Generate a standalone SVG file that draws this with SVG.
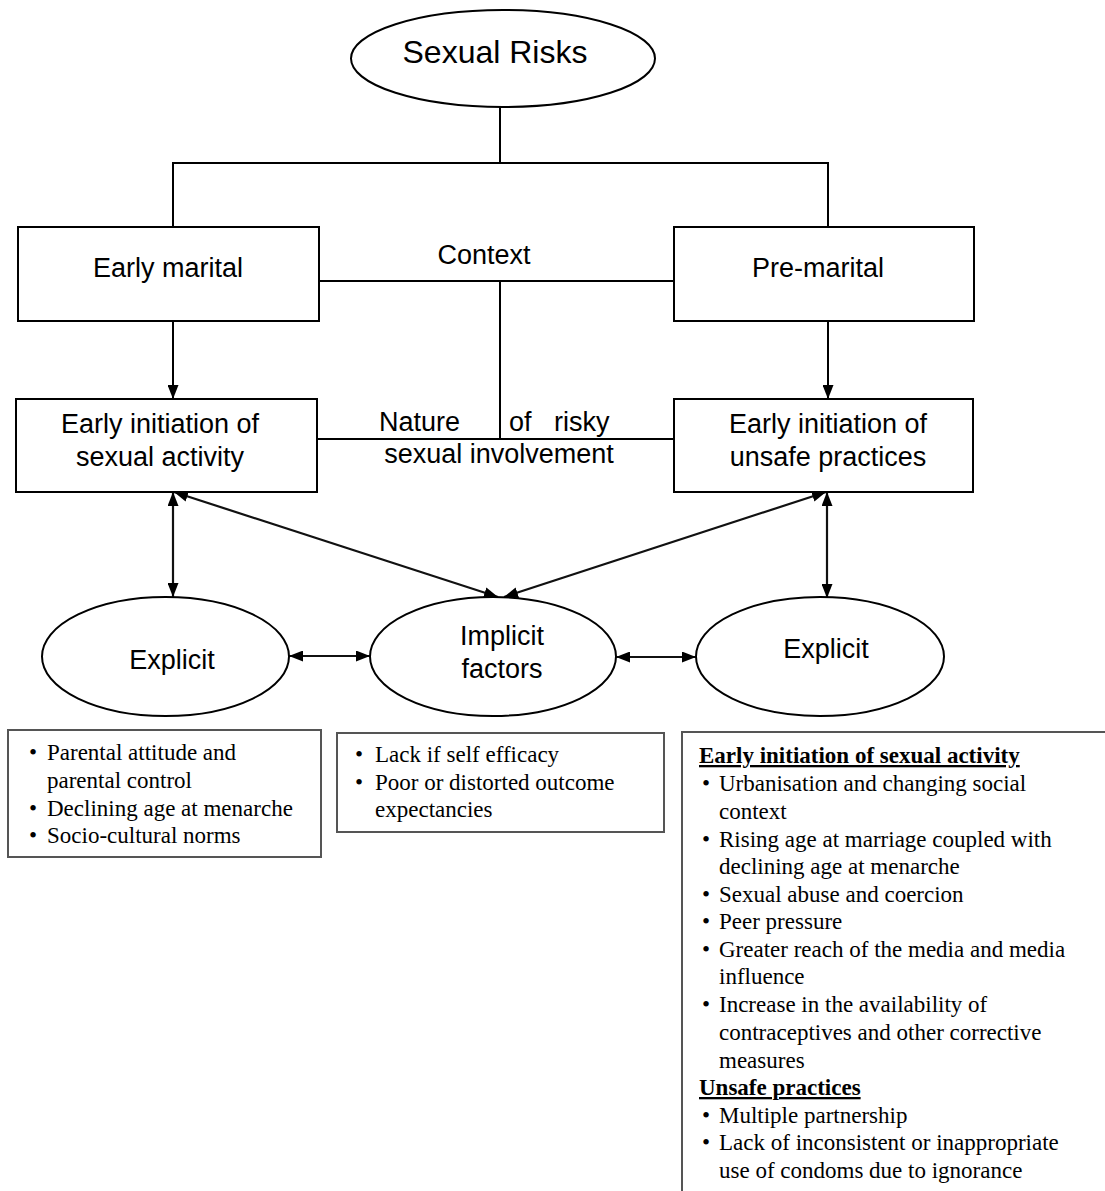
<svg xmlns="http://www.w3.org/2000/svg" width="1105" height="1191" viewBox="0 0 1105 1191">
<style>
.sh{fill:#fff;stroke:#000;stroke-width:2}
.bx{fill:#fff;stroke:#555;stroke-width:2}
.ln{fill:none;stroke:#000;stroke-width:2}
.ar{fill:none;stroke:#111;stroke-width:2.2;marker-start:url(#ah);marker-end:url(#ah)}
.sn{font-family:"Liberation Sans",Arial,sans-serif;font-size:27px;fill:#000;text-anchor:middle}
.sr{font-family:"Liberation Serif","Times New Roman",serif;font-size:23px;fill:#000}
.hd{text-decoration:underline;font-weight:bold}
</style>
<defs>
<marker id="ah" viewBox="0 0 14 11" refX="14" refY="5.5" markerWidth="14" markerHeight="11" markerUnits="userSpaceOnUse" orient="auto-start-reverse">
<path d="M0,0 L14,5.5 L0,11 z" fill="#000"/>
</marker>
</defs>
<rect width="1105" height="1191" fill="#fff"/>
<g id="connectors">
<line class="ln" x1="500" y1="107" x2="500" y2="163"/>
<polyline class="ln" points="173,227 173,163 828,163 828,227"/>
<line class="ln" x1="319" y1="281" x2="674" y2="281"/>
<line class="ln" x1="500" y1="281" x2="500" y2="439"/>
<line class="ln" x1="317" y1="439" x2="674" y2="439"/>
<line class="ln" x1="173" y1="321" x2="173" y2="399" marker-end="url(#ah)"/>
<line class="ln" x1="828" y1="321" x2="828" y2="399" marker-end="url(#ah)"/>
<line class="ar" x1="173" y1="492" x2="173" y2="597"/>
<line class="ar" x1="827" y1="492" x2="827" y2="598"/>
<line class="ar" x1="174" y1="492" x2="498" y2="597"/>
<line class="ar" x1="826" y1="492" x2="504" y2="597"/>
<line class="ar" x1="289" y1="656" x2="370" y2="656"/>
<line class="ar" x1="616" y1="657" x2="696" y2="657"/>
</g>
<g id="sexual-risks">
<ellipse class="sh" cx="503" cy="58.5" rx="152" ry="48.5"/>
<text class="sn" x="495" y="63" style="font-size:32px">Sexual Risks</text>
</g>
<g id="early-marital">
<rect class="sh" x="18" y="227" width="301" height="94"/>
<text class="sn" x="168" y="277">Early marital</text>
</g>
<g id="context-label">
<text class="sn" x="484" y="264">Context</text>
</g>
<g id="pre-marital">
<rect class="sh" x="674" y="227" width="300" height="94"/>
<text class="sn" x="818" y="277">Pre-marital</text>
</g>
<g id="early-initiation-sexual">
<rect class="sh" x="16" y="399" width="301" height="93"/>
<text class="sn" x="160" y="433">Early initiation of</text>
<text class="sn" x="160" y="466">sexual activity</text>
</g>
<g id="nature-label">
<text class="sn" x="379" y="431" style="text-anchor:start">Nature</text>
<text class="sn" x="509" y="431" style="text-anchor:start">of</text>
<text class="sn" x="554" y="431" style="text-anchor:start">risky</text>
<text class="sn" x="499" y="463">sexual involvement</text>
</g>
<g id="early-initiation-unsafe">
<rect class="sh" x="674" y="399" width="299" height="93"/>
<text class="sn" x="828" y="433">Early initiation of</text>
<text class="sn" x="828" y="466">unsafe practices</text>
</g>
<g id="explicit-left">
<ellipse class="sh" cx="165.5" cy="656.5" rx="123.5" ry="59.5"/>
<text class="sn" x="172" y="669">Explicit</text>
</g>
<g id="implicit-factors">
<ellipse class="sh" cx="493" cy="656.5" rx="123" ry="59.5"/>
<text class="sn" x="502" y="645">Implicit</text>
<text class="sn" x="502" y="678">factors</text>
</g>
<g id="explicit-right">
<ellipse class="sh" cx="820" cy="656.5" rx="124" ry="59.5"/>
<text class="sn" x="826" y="658">Explicit</text>
</g>
<g id="box-explicit-left">
<rect class="bx" x="8" y="730" width="313" height="127"/>
<text class="sr" x="29" y="760">•</text><text class="sr" x="47" y="760">Parental attitude and</text>
<text class="sr" x="47" y="788">parental control</text>
<text class="sr" x="29" y="816">•</text><text class="sr" x="47" y="816">Declining age at menarche</text>
<text class="sr" x="29" y="843">•</text><text class="sr" x="47" y="843">Socio-cultural norms</text>
</g>
<g id="box-implicit">
<rect class="bx" x="337" y="733" width="327" height="99"/>
<text class="sr" x="355" y="762">•</text><text class="sr" x="375" y="762">Lack if self efficacy</text>
<text class="sr" x="355" y="790">•</text><text class="sr" x="375" y="790">Poor or distorted outcome</text>
<text class="sr" x="375" y="817">expectancies</text>
</g>
<g id="box-explicit-right">
<rect class="bx" x="682" y="732" width="500" height="500"/>
<text class="sr hd" x="699" y="763">Early initiation of sexual activity</text>
<text class="sr" x="702" y="791">•</text><text class="sr" x="719" y="791">Urbanisation and changing social</text>
<text class="sr" x="719" y="819">context</text>
<text class="sr" x="702" y="847">•</text><text class="sr" x="719" y="847">Rising age at marriage coupled with</text>
<text class="sr" x="719" y="874">declining age at menarche</text>
<text class="sr" x="702" y="902">•</text><text class="sr" x="719" y="902">Sexual abuse and coercion</text>
<text class="sr" x="702" y="929">•</text><text class="sr" x="719" y="929">Peer pressure</text>
<text class="sr" x="702" y="957">•</text><text class="sr" x="719" y="957">Greater reach of the media and media</text>
<text class="sr" x="719" y="984">influence</text>
<text class="sr" x="702" y="1012">•</text><text class="sr" x="719" y="1012">Increase in the availability of</text>
<text class="sr" x="719" y="1040">contraceptives and other corrective</text>
<text class="sr" x="719" y="1068">measures</text>
<text class="sr hd" x="699" y="1095">Unsafe practices</text>
<text class="sr" x="702" y="1123">•</text><text class="sr" x="719" y="1123">Multiple partnership</text>
<text class="sr" x="702" y="1150">•</text><text class="sr" x="719" y="1150">Lack of inconsistent or inappropriate</text>
<text class="sr" x="719" y="1178">use of condoms due to ignorance</text>
</g>
</svg>
